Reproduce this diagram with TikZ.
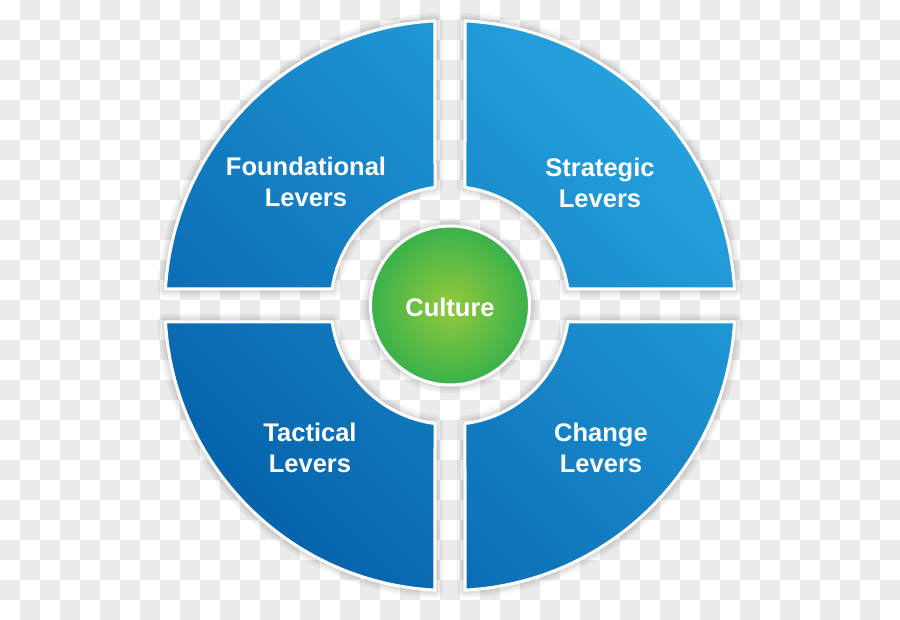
\documentclass[tikz,border=0pt]{standalone}
\usepackage{fontspec}
\setmainfont{Liberation Sans}
\definecolor{bluelight}{HTML}{26A3DF}
\definecolor{bluedark}{HTML}{0561AB}
\definecolor{checkgray}{HTML}{EBEBEB}
\definecolor{greenin}{HTML}{95C93D}
\definecolor{greenout}{HTML}{38B24A}
\tikzset{
  lbl/.style={text=white, font=\bfseries\fontsize{25.5}{31}\selectfont, align=center},
  rim/.style={draw=white, line width=3pt, line join=round},
  shad/.style={draw=black, line join=round, draw opacity=0.045},
}
% quadrant outline: outer arc from #1 to #2, inner arc from #3 to #4
\newcommand\qpath[4]{(#1:285) arc[start angle=#1,end angle=#2,radius=285] -- (#3:119) arc[start angle=#3,end angle=#4,radius=119] -- cycle}
\begin{document}
\begin{tikzpicture}[x=1pt,y=1pt]
\useasboundingbox (-450,-314.5) rectangle (450,305.5);
% checkerboard background
\fill[white] (-450,-314.5) rectangle (450,305.5);
\foreach \i in {0,...,44}{
  \foreach \j in {0,...,30}{
    \ifodd\numexpr\i+\j\relax
      \fill[checkgray] ({\i*20-450},{305.5-\j*20}) rectangle ++(20,-20);
    \fi
  }
}
% soft shadows
\foreach \w in {16,11,7}{
  \draw[shad, line width=\w] \qpath{3.32}{86.98}{82.76}{7.97};
  \draw[shad, line width=\w] \qpath{93.02}{176.68}{172.03}{97.24};
  \draw[shad, line width=\w] \qpath{183.32}{266.98}{262.76}{187.97};
  \draw[shad, line width=\w] \qpath{273.02}{356.68}{352.03}{277.24};
  \draw[shad, line width=\w] (0,0) circle (79.5);
}
% blue quadrants with global gradient
\begin{scope}
  \clip \qpath{3.32}{86.98}{82.76}{7.97}
        \qpath{93.02}{176.68}{172.03}{97.24}
        \qpath{183.32}{266.98}{262.76}{187.97}
        \qpath{273.02}{356.68}{352.03}{277.24};
  \shade[top color=bluelight, bottom color=bluedark, shading angle=-45] (-300,-300) rectangle (300,300);
\end{scope}
\draw[rim] \qpath{3.32}{86.98}{82.76}{7.97};
\draw[rim] \qpath{93.02}{176.68}{172.03}{97.24};
\draw[rim] \qpath{183.32}{266.98}{262.76}{187.97};
\draw[rim] \qpath{273.02}{356.68}{352.03}{277.24};
% green centre
\shade[inner color=greenin, outer color=greenout] (0,0) circle (79.5);
\draw[rim] (0,0) circle (79.5);
% labels
\node[lbl] (found) at (-144,123.5) {Foundational\\Levers};
\node[lbl] (strat) at (150,123) {Strategic\\Levers};
\node[lbl] (tact) at (-140,-142) {Tactical\\Levers};
\node[lbl] (change) at (151,-142) {Change\\Levers};
\node[lbl] (culture) at (0,-1.5) {Culture};
\end{tikzpicture}
\end{document}
